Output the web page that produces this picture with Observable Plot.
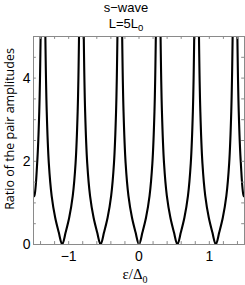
<!DOCTYPE html>
<html><head><meta charset="utf-8">
<script src="https://cdn.jsdelivr.net/npm/d3@7"></script>
<script src="https://cdn.jsdelivr.net/npm/@observablehq/plot@0.6"></script>
<style>body{margin:0;background:#fff}</style>
</head><body><div id="chart"></div>
<script>
// Curve branches (ε/Δ0 vs ratio); values above 5 leave the frame
const epsEdgeL   = [-1.5, -1.488, -1.448, -1.418, -1.398, -1.388];
const ratioEdgeL = [1.15, 1.17, 1.95, 3.2, 5.1, 7.5];
const epsB1   = [-1.342, -1.332, -1.312, -1.282, -1.242, -1.192, -1.142, -1.092, -1.042, -0.992, -0.942, -0.902, -0.872, -0.852, -0.842];
const ratioB1 = [7.5, 5.1, 3.2, 1.95, 1.17, 0.65, 0.3, 0, 0.3, 0.65, 1.17, 1.95, 3.2, 5.1, 7.5];
const epsB2   = [-0.796, -0.786, -0.766, -0.736, -0.696, -0.646, -0.596, -0.546, -0.496, -0.446, -0.396, -0.356, -0.326, -0.306, -0.296];
const ratioB2 = [7.5, 5.1, 3.2, 1.95, 1.17, 0.65, 0.3, 0, 0.3, 0.65, 1.17, 1.95, 3.2, 5.1, 7.5];
const epsB3   = [-0.25, -0.24, -0.22, -0.19, -0.15, -0.10, -0.05, 0, 0.05, 0.10, 0.15, 0.19, 0.22, 0.24, 0.25];
const ratioB3 = [7.5, 5.1, 3.2, 1.95, 1.17, 0.65, 0.3, 0, 0.3, 0.65, 1.17, 1.95, 3.2, 5.1, 7.5];
const epsB4   = [0.296, 0.306, 0.326, 0.356, 0.396, 0.446, 0.496, 0.546, 0.596, 0.646, 0.696, 0.736, 0.766, 0.786, 0.796];
const ratioB4 = [7.5, 5.1, 3.2, 1.95, 1.17, 0.65, 0.3, 0, 0.3, 0.65, 1.17, 1.95, 3.2, 5.1, 7.5];
const epsB5   = [0.842, 0.852, 0.872, 0.902, 0.942, 0.992, 1.042, 1.092, 1.142, 1.192, 1.242, 1.282, 1.312, 1.332, 1.342];
const ratioB5 = [7.5, 5.1, 3.2, 1.95, 1.17, 0.65, 0.3, 0, 0.3, 0.65, 1.17, 1.95, 3.2, 5.1, 7.5];
const epsEdgeR   = [1.388, 1.398, 1.418, 1.448, 1.488, 1.5];
const ratioEdgeR = [7.5, 5.1, 3.2, 1.95, 1.17, 1.15];

const xTicks = [-1, 0, 1];
const yTicks = [0, 2, 4];
const xMinor = [-1.4, -1.2, -1.0, -0.8, -0.6, -0.4, -0.2, 0, 0.2, 0.4, 0.6, 0.8, 1.0, 1.2, 1.4];
const yMinor = [0.5, 1, 1.5, 2, 2.5, 3, 3.5, 4, 4.5];

const titleLine1 = "s\u2212wave";
const titleMain = "L=5L", titleSub = "0";
const xLabelMain = "\u03b5/\u0394", xLabelSub = "0";
const yLabel = "Ratio of the pair amplitudes";

const branches = [[epsEdgeL, ratioEdgeL], [epsB1, ratioB1], [epsB2, ratioB2], [epsB3, ratioB3],
                  [epsB4, ratioB4], [epsB5, ratioB5], [epsEdgeR, ratioEdgeR]];
const data = branches.flatMap(([xs, ys], b) => xs.map((x, i) => ({eps: x, ratio: ys[i], branch: b})));

const gray = "#8a8a8a";
const narrow = "'Liberation Sans Narrow', 'Arial Narrow', 'Liberation Sans', sans-serif";
const fmt = d => d < 0 ? "\u2212" + Math.abs(d) : String(d);

const svg = Plot.plot({
  width: 245, height: 285,
  marginLeft: 33, marginRight: 1, marginTop: 36, marginBottom: 41,
  style: {fontFamily: narrow, fontSize: "14px", background: "#fff", color: "#000"},
  x: {domain: [-1.5, 1.5]},
  y: {domain: [0, 5]},
  marks: [
    Plot.line(data, {x: "eps", y: "ratio", z: "branch", stroke: "#000", strokeWidth: 2.1, curve: "catmull-rom", clip: true}),
    Plot.ruleX(xMinor, {x: d => d, y1: 0, y2: 0.07, stroke: gray}),
    Plot.ruleX(xMinor, {x: d => d, y1: 4.93, y2: 5, stroke: gray}),
    Plot.ruleY(yMinor, {y: d => d, x1: -1.5, x2: -1.46, stroke: gray}),
    Plot.ruleY(yMinor, {y: d => d, x1: 1.46, x2: 1.5, stroke: gray}),
    Plot.frame({stroke: gray}),
    Plot.axisX({ticks: xTicks, tickFormat: fmt, tickSize: 0, tickPadding: 7, label: null, fontSize: 14}),
    Plot.axisY({ticks: yTicks, tickFormat: fmt, tickSize: 0, tickPadding: 3, label: null, fontSize: 14})
  ]
});

const s = d3.select(svg);
s.append("text").attr("x", 126).attr("y", 12).attr("text-anchor", "middle")
  .attr("font-family", narrow).attr("font-size", 13).text(titleLine1);
const t2 = s.append("text").attr("x", 126).attr("y", 28).attr("text-anchor", "middle")
  .attr("font-family", narrow).attr("font-size", 13);
t2.append("tspan").text(titleMain);
t2.append("tspan").attr("font-size", 9.5).attr("dy", 3).text(titleSub);
const xl = s.append("text").attr("x", 135).attr("y", 279).attr("text-anchor", "middle")
  .attr("font-family", "'Liberation Serif', serif").attr("font-size", 15);
xl.append("tspan").text(xLabelMain);
xl.append("tspan").attr("font-size", 10).attr("dy", 4).text(xLabelSub);
s.append("text").attr("transform", "translate(14,129) rotate(-90)").attr("text-anchor", "middle")
  .attr("font-family", "'Open Sans', sans-serif").attr("font-size", 12.5).text(yLabel);

document.getElementById("chart").appendChild(svg);
</script>
</body></html>
